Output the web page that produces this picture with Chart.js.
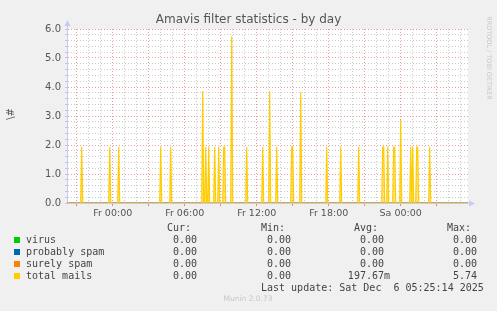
<!DOCTYPE html>
<html>
<head>
<meta charset="utf-8">
<script src="https://cdn.jsdelivr.net/npm/chart.js"></script>
<style>
html, body { margin: 0; padding: 0; background: #f0f0f0; }
#wrap { width: 497px; height: 311px; }
</style>
</head>
<body>
<div id="wrap"><canvas id="myChart" width="497" height="311"></canvas></div>
<script>
// time axis in minutes from Fr 00:00 (one munin pixel = 5 min)
var xStart = -228.5, xEnd = 1776.5;
var tickMinutes = [0, 360, 720, 1080, 1440];
var tickLabels = ['Fr 00:00', 'Fr 06:00', 'Fr 12:00', 'Fr 18:00', 'Sa 00:00'];

// total mails: non-zero samples, everything else is 0
var spikeMinutes = [-155, -15, 30, 240, 290, 450, 465, 480, 510, 530, 555, 560, 595, 670, 750, 785, 820,
  895, 900, 940, 1070, 1140, 1230, 1350, 1355, 1375, 1405, 1410, 1440, 1490, 1500, 1520, 1525, 1585];
var spikeValues = [1.93, 1.93, 1.93, 1.93, 1.93, 3.86, 1.93, 1.93, 1.93, 1.93, 1.93, 1.93, 5.74, 1.93, 1.93, 3.86, 1.93,
  1.93, 1.93, 3.82, 1.93, 1.93, 1.93, 1.93, 1.93, 1.93, 1.93, 1.93, 2.86, 1.93, 1.93, 1.93, 1.93, 1.93];

// legend table
var seriesNames = ['virus', 'probably spam', 'surely spam', 'total mails'];
var seriesColors = ['#00cc00', '#0066b3', '#ff8000', '#ffcc00'];
var curValues = ['0.00', '0.00', '0.00', '0.00'];
var minValues = ['0.00', '0.00', '0.00', '0.00'];
var avgValues = ['0.00 ', '0.00 ', '0.00 ', '197.67m'];
var maxValues = ['0.00', '0.00', '0.00', '5.74'];

var totalPoints = [{x: xStart, y: 0}];
for (var i = 0; i < spikeMinutes.length; i++) {
  var m = spikeMinutes[i];
  if (i == 0 || spikeMinutes[i - 1] != m - 5) totalPoints.push({x: m - 5, y: 0});
  totalPoints.push({x: m, y: spikeValues[i]});
  if (i == spikeMinutes.length - 1 || spikeMinutes[i + 1] != m + 5) totalPoints.push({x: m + 5, y: 0});
}
totalPoints.push({x: xEnd, y: 0});

function flat() { return [{x: xStart, y: 0}, {x: xEnd, y: 0}]; }

var munin = {
  id: 'munin',
  beforeDraw: function(chart) {
    var c = chart.ctx, a = chart.chartArea;
    c.save();
    c.fillStyle = '#ffffff';
    c.fillRect(a.left, a.top, a.right - a.left, a.bottom - a.top);
    c.restore();
  },
  afterDraw: function(chart) {
    var c = chart.ctx, a = chart.chartArea;
    c.save();
    // title
    c.fillStyle = '#555';
    c.font = '12px "DejaVu Sans"';
    c.textAlign = 'center';
    c.textBaseline = 'middle';
    c.fillText('Amavis filter statistics - by day', 248.5, 19.5);
    // vertical label
    c.save();
    c.translate(11, 114);
    c.rotate(-Math.PI / 2);
    c.font = '10px "DejaVu Sans"';
    c.fillText('\\#', 0, 0);
    c.restore();
    // rrdtool credit
    c.save();
    c.translate(488.5, 58);
    c.rotate(Math.PI / 2);
    c.fillStyle = '#c8c8c8';
    c.font = '6.5px "DejaVu Sans"';
    c.fillText('RRDTOOL / TOBI OETIKER', 0, 0);
    c.restore();
    // axis arrows
    c.strokeStyle = '#c8c8ff';
    c.fillStyle = '#c8c8ff';
    c.lineWidth = 1;
    c.beginPath();
    c.moveTo(a.left + 0.5, a.top);
    c.lineTo(a.left + 0.5, a.top - 5);
    c.stroke();
    c.beginPath();
    c.moveTo(a.left + 0.5, a.top - 9);
    c.lineTo(a.left - 2.5, a.top - 3);
    c.lineTo(a.left + 3.5, a.top - 3);
    c.fill();
    c.beginPath();
    c.moveTo(a.right, a.bottom + 0.5);
    c.lineTo(a.right + 3, a.bottom + 0.5);
    c.stroke();
    c.beginPath();
    c.moveTo(a.right + 7, a.bottom + 0.5);
    c.lineTo(a.right + 1, a.bottom - 2.5);
    c.lineTo(a.right + 1, a.bottom + 3.5);
    c.fill();
    // legend
    c.font = '10px "DejaVu Sans Mono"';
    c.fillStyle = '#444';
    c.textAlign = 'left';
    c.fillText('Cur:', 167, 228);
    c.fillText('Min:', 261, 228);
    c.fillText('Avg:', 354, 228);
    c.fillText('Max:', 447, 228);
    for (var r = 0; r < seriesNames.length; r++) {
      var y = 240 + r * 12;
      c.fillStyle = seriesColors[r];
      c.fillRect(14, y - 3, 6, 6);
      c.fillStyle = '#444';
      c.textAlign = 'left';
      c.fillText(seriesNames[r], 26, y);
      c.textAlign = 'right';
      c.fillText(curValues[r], 197, y);
      c.fillText(minValues[r], 291, y);
      c.fillText(avgValues[r], 390, y);
      c.fillText(maxValues[r], 477, y);
    }
    c.textAlign = 'left';
    c.fillText('Last update: Sat Dec  6 05:25:14 2025', 261, 288);
    c.fillStyle = '#c8c8c8';
    c.textAlign = 'center';
    c.font = '7.5px "DejaVu Sans"';
    c.fillText('Munin 2.0.73', 248, 299.5);
    c.restore();
  }
};

var ctx = document.getElementById('myChart').getContext('2d');
var chart = new Chart(ctx, {
  type: 'line',
  data: {
    datasets: [
      {label: seriesNames[0], data: flat(), borderColor: seriesColors[0], borderWidth: 1, pointRadius: 0, order: 4},
      {label: seriesNames[1], data: flat(), borderColor: seriesColors[1], borderWidth: 1, pointRadius: 0, order: 3},
      {label: seriesNames[2], data: flat(), borderColor: seriesColors[2], borderWidth: 1, pointRadius: 0, order: 2},
      {label: seriesNames[3], data: totalPoints, borderColor: seriesColors[3], backgroundColor: 'rgba(255,204,0,0.5)',
       fill: 'origin', borderWidth: 1.2, pointRadius: 0, tension: 0, order: 1}
    ]
  },
  options: {
    responsive: false,
    animation: false,
    layout: {padding: {top: 29, right: 29, bottom: 88, left: 0}},
    plugins: {legend: {display: false}, tooltip: {enabled: false}},
    scales: {
      x: {
        type: 'linear', min: xStart, max: xEnd,
        afterBuildTicks: function(s) {
          var t = [];
          for (var v = -180; v <= 1740; v += 60) t.push({value: v});
          s.ticks = t;
        },
        afterFit: function(s) { s.height = 20; },
        grid: {
          color: function(c) { return c.tick.value % 180 == 0 ? 'rgba(230,120,120,0.75)' : 'rgba(190,190,190,0.8)'; },
          tickColor: function(c) { return c.tick.value % 180 == 0 ? 'rgba(230,120,120,0.9)' : 'rgba(0,0,0,0)'; },
          tickLength: 3
        },
        border: {color: '#c8c8ff', dash: [1, 2]},
        ticks: {
          autoSkip: false, maxRotation: 0, padding: 2, color: '#555',
          font: {family: 'DejaVu Sans', size: 9.5},
          callback: function(v) { var k = tickMinutes.indexOf(v); return k >= 0 ? tickLabels[k] : ''; }
        }
      },
      y: {
        min: 0, max: 6,
        afterBuildTicks: function(s) {
          var t = [];
          for (var k = 0; k <= 30; k++) t.push({value: k / 5});
          s.ticks = t;
        },
        afterFit: function(s) { s.width = 67; },
        grid: {
          color: function(c) { return Math.round(c.tick.value * 5) % 5 == 0 ? 'rgba(230,120,120,0.75)' : 'rgba(190,190,190,0.8)'; },
          tickColor: 'rgba(190,190,190,0.8)',
          tickLength: 2
        },
        border: {color: '#c8c8ff', dash: [1, 2]},
        ticks: {
          autoSkip: false, padding: 4, color: '#555',
          font: {family: 'DejaVu Sans', size: 10},
          callback: function(v) { return Math.round(v * 5) % 5 == 0 ? v.toFixed(1) : ''; }
        }
      }
    }
  },
  plugins: [munin]
});
</script>
</body>
</html>
